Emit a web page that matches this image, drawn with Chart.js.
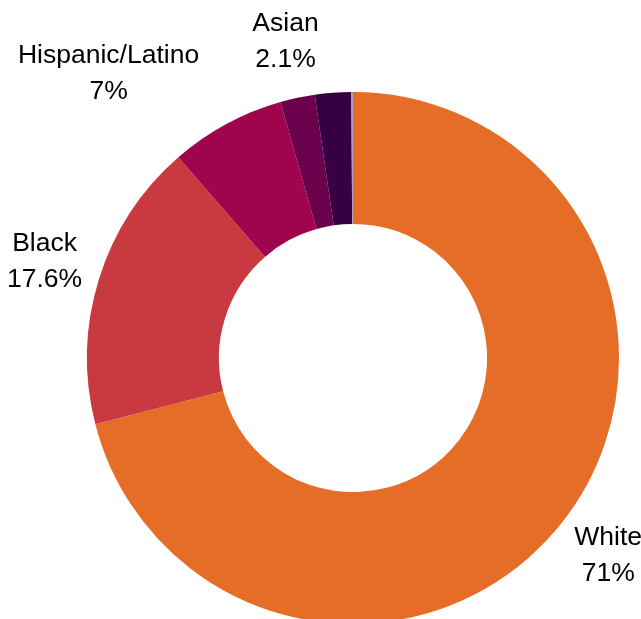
<!DOCTYPE html>
<html>
<head>
<meta charset="utf-8">
<script src="https://cdn.jsdelivr.net/npm/chart.js@4"></script>
<style>
  html, body { margin: 0; padding: 0; background: #fff; overflow: hidden; }
  #wrap { position: absolute; left: 0; top: 0; }
</style>
</head>
<body>
<div id="wrap"><canvas id="myChart" width="641" height="660"></canvas></div>
<script>
// share of population by race/ethnicity (%)
const categories = ['White', 'Black', 'Hispanic/Latino', 'Asian', 'Two or more races', 'Other'];
const shares = [71, 17.6, 7, 2.1, 2.2, 0.1];
const labeled = [true, true, true, true, false, false];
const colors = ['#E66D28', '#C93A40', '#A0044C', '#6B014C', '#360042', '#A79CC4'];

// draws the two-line labels outside the ring
const outsideLabels = {
  id: 'outsideLabels',
  afterDatasetsDraw(chart) {
    const ctx = chart.ctx;
    const arcs = chart.getDatasetMeta(0).data;
    ctx.save();
    ctx.font = '26.5px "Liberation Sans", Arial, sans-serif';
    ctx.fillStyle = '#000';
    ctx.textBaseline = 'middle';
    let boxes = [];
    arcs.forEach(function (arc, i) {
      if (!labeled[i]) return;
      const p = arc.getProps(['x', 'y', 'startAngle', 'endAngle', 'outerRadius']);
      const mid = (p.startAngle + p.endAngle) / 2;
      const r = p.outerRadius + 57;
      const ax = p.x + Math.cos(mid) * r;
      const ay = p.y + Math.sin(mid) * r;
      const lines = [categories[i], shares[i] + '%'];
      const w = Math.max.apply(null, lines.map(function (t) { return ctx.measureText(t).width; }));
      boxes.push({ i: i, ax: ax, ay: ay, cx: ax, w: w, lines: lines });
    });
    // nudge blocks that collide with the next one
    for (let k = 0; k < boxes.length - 1; k++) {
      const a = boxes[k], b = boxes[k + 1];
      const overlapX = Math.abs(a.cx - b.cx) < (a.w + b.w) / 2;
      const overlapY = Math.abs(a.ay - b.ay) < 72;
      if (overlapX && overlapY) {
        a.cx = a.ax - a.w / 2;
      }
    }
    boxes.forEach(function (b) {
      let cx = Math.max(b.cx, b.w / 2 + 6);
      ctx.textAlign = 'center';
      ctx.fillText(b.lines[0], cx, b.ay - 18);
      ctx.fillText(b.lines[1], cx, b.ay + 18);
    });
    ctx.restore();
  }
};

new Chart(document.getElementById('myChart'), {
  type: 'doughnut',
  data: {
    labels: categories,
    datasets: [{
      data: shares,
      backgroundColor: colors,
      borderWidth: 0
    }]
  },
  options: {
    responsive: false,
    animation: false,
    devicePixelRatio: 1,
    cutout: '50.4%',
    layout: { padding: { left: 87, right: 22, top: 92, bottom: 36 } },
    plugins: {
      legend: { display: false },
      tooltip: { enabled: false }
    }
  },
  plugins: [outsideLabels]
});
</script>
</body>
</html>
